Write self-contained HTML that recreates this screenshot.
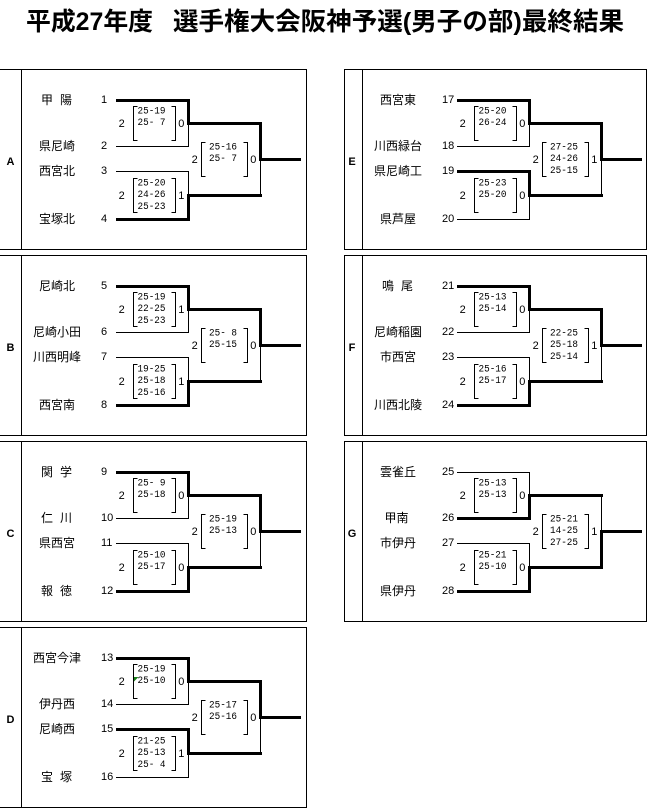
<!DOCTYPE html>
<html><head><meta charset="utf-8">
<style>
html,body{margin:0;padding:0;background:#fff;}
svg{display:block;}
.t{stroke:#000;stroke-width:1;fill:none;}
.k{stroke:#000;stroke-width:3;stroke-linecap:square;stroke-linejoin:miter;fill:none;}
.n{font-family:"Liberation Sans","Noto Sans CJK JP",sans-serif;font-size:12px;text-anchor:middle;fill:#000;}
.d{font-family:"Liberation Sans",sans-serif;font-size:11px;fill:#000;}
.s{font-family:"Liberation Mono",monospace;font-size:10.5px;fill:#000;}
.c{font-family:"Liberation Sans",sans-serif;font-size:11px;text-anchor:middle;fill:#000;}
.L{font-family:"Liberation Sans",sans-serif;font-size:11px;font-weight:bold;text-anchor:middle;fill:#000;}
.T{font-family:"Liberation Sans","Noto Sans CJK JP",sans-serif;font-size:25px;font-weight:bold;fill:#000;}
</style></head>
<body>
<svg width="648" height="808" viewBox="0 0 648 808" xmlns="http://www.w3.org/2000/svg">
<rect x="0" y="0" width="648" height="808" fill="#fff"/>

<text class="T" x="26" y="30" textLength="127" lengthAdjust="spacingAndGlyphs">平成27年度</text>
<text class="T" x="173" y="30" textLength="451" lengthAdjust="spacingAndGlyphs">選手権大会阪神予選(男子の部)最終結果</text>

<!-- Borders left panels -->
<path class="t" d="M0 69.5H307M306.5 69.5V249.5M0 249.5H307"/>
<path class="t" d="M0 255.5H307M306.5 255.5V435.5M0 435.5H307"/>
<path class="t" d="M0 441.5H307M306.5 441.5V621.5M0 621.5H307"/>
<path class="t" d="M0 627.5H307M306.5 627.5V807.5M0 807.5H307"/>
<!-- Borders right panels -->
<rect class="t" x="344.5" y="69.5" width="302" height="180"/>
<rect class="t" x="344.5" y="255.5" width="302" height="180"/>
<rect class="t" x="344.5" y="441.5" width="302" height="180"/>

<!-- Panel A -->
<g transform="translate(0,69)">
<path class="t" d="M21.5 0V181"/>
<text class="L" x="10.5" y="96">A</text>
<text class="n" x="47" y="35">甲</text><text class="n" x="66" y="35">陽</text>
<text class="n" x="57" y="81">県尼崎</text>
<text class="n" x="57" y="106">西宮北</text>
<text class="n" x="57" y="154">宝塚北</text>
<text class="d" x="101" y="34">1</text>
<text class="d" x="101" y="80">2</text>
<text class="d" x="101" y="105">3</text>
<text class="d" x="101" y="153">4</text>
<path class="k" d="M117.5 31.5H188.5V54.5H260.5V90.5H299.5"/>
<path class="k" d="M117.5 150.5H188.5V126.5H260.5"/>
<path class="t" d="M116 77.5H188.5V54.5M116 102.5H188.5V126.5M260.5 90.5V126.5"/>
<path class="t" d="M137.5 37.5H133.5V71.5H137.5M171.5 37.5H175.5V71.5H171.5M137.5 109.5H133.5V143.5H137.5M171.5 109.5H175.5V143.5H171.5M205.5 73.5H201.5V107.5H205.5M243.5 73.5H247.5V107.5H243.5"/>
<text class="s" x="137.5" y="44.5" textLength="28" lengthAdjust="spacingAndGlyphs">25-19</text>
<text class="s" x="137.5" y="56.2" textLength="28" lengthAdjust="spacingAndGlyphs">25- 7</text>
<text class="s" x="137.5" y="116.5" textLength="28" lengthAdjust="spacingAndGlyphs">25-20</text>
<text class="s" x="137.5" y="128.2" textLength="28" lengthAdjust="spacingAndGlyphs">24-26</text>
<text class="s" x="137.5" y="139.9" textLength="28" lengthAdjust="spacingAndGlyphs">25-23</text>
<text class="s" x="209" y="80.5" textLength="28" lengthAdjust="spacingAndGlyphs">25-16</text>
<text class="s" x="209" y="92.2" textLength="28" lengthAdjust="spacingAndGlyphs">25- 7</text>
<text class="c" x="121.7" y="58">2</text><text class="c" x="181.3" y="58">0</text>
<text class="c" x="121.7" y="130">2</text><text class="c" x="181.3" y="130">1</text>
<text class="c" x="194.7" y="94">2</text><text class="c" x="253.3" y="94">0</text>
</g>

<!-- Panel B -->
<g transform="translate(0,255)">
<path class="t" d="M21.5 0V181"/>
<text class="L" x="10.5" y="96">B</text>
<text class="n" x="57" y="35">尼崎北</text>
<text class="n" x="57" y="81">尼崎小田</text>
<text class="n" x="57" y="106">川西明峰</text>
<text class="n" x="57" y="154">西宮南</text>
<text class="d" x="101" y="34">5</text>
<text class="d" x="101" y="80">6</text>
<text class="d" x="101" y="105">7</text>
<text class="d" x="101" y="153">8</text>
<path class="k" d="M117.5 31.5H188.5V54.5H260.5V90.5H299.5"/>
<path class="k" d="M117.5 150.5H188.5V126.5H260.5"/>
<path class="t" d="M116 77.5H188.5V54.5M116 102.5H188.5V126.5M260.5 90.5V126.5"/>
<path class="t" d="M137.5 37.5H133.5V71.5H137.5M171.5 37.5H175.5V71.5H171.5M137.5 109.5H133.5V143.5H137.5M171.5 109.5H175.5V143.5H171.5M205.5 73.5H201.5V107.5H205.5M243.5 73.5H247.5V107.5H243.5"/>
<text class="s" x="137.5" y="44.5" textLength="28" lengthAdjust="spacingAndGlyphs">25-19</text>
<text class="s" x="137.5" y="56.2" textLength="28" lengthAdjust="spacingAndGlyphs">22-25</text>
<text class="s" x="137.5" y="67.9" textLength="28" lengthAdjust="spacingAndGlyphs">25-23</text>
<text class="s" x="137.5" y="116.5" textLength="28" lengthAdjust="spacingAndGlyphs">19-25</text>
<text class="s" x="137.5" y="128.2" textLength="28" lengthAdjust="spacingAndGlyphs">25-18</text>
<text class="s" x="137.5" y="139.9" textLength="28" lengthAdjust="spacingAndGlyphs">25-16</text>
<text class="s" x="209" y="80.5" textLength="28" lengthAdjust="spacingAndGlyphs">25- 8</text>
<text class="s" x="209" y="92.2" textLength="28" lengthAdjust="spacingAndGlyphs">25-15</text>
<text class="c" x="121.7" y="58">2</text><text class="c" x="181.3" y="58">1</text>
<text class="c" x="121.7" y="130">2</text><text class="c" x="181.3" y="130">1</text>
<text class="c" x="194.7" y="94">2</text><text class="c" x="253.3" y="94">0</text>
</g>

<!-- Panel C -->
<g transform="translate(0,441)">
<path class="t" d="M21.5 0V181"/>
<text class="L" x="10.5" y="96">C</text>
<text class="n" x="47" y="35">関</text><text class="n" x="66" y="35">学</text>
<text class="n" x="47" y="81">仁</text><text class="n" x="66" y="81">川</text>
<text class="n" x="57" y="106">県西宮</text>
<text class="n" x="47" y="154">報</text><text class="n" x="66" y="154">徳</text>
<text class="d" x="101" y="34">9</text>
<text class="d" x="101" y="80">10</text>
<text class="d" x="101" y="105">11</text>
<text class="d" x="101" y="153">12</text>
<path class="k" d="M117.5 31.5H188.5V54.5H260.5V90.5H299.5"/>
<path class="k" d="M117.5 150.5H188.5V126.5H260.5"/>
<path class="t" d="M116 77.5H188.5V54.5M116 102.5H188.5V126.5M260.5 90.5V126.5"/>
<path class="t" d="M137.5 37.5H133.5V71.5H137.5M171.5 37.5H175.5V71.5H171.5M137.5 109.5H133.5V143.5H137.5M171.5 109.5H175.5V143.5H171.5M205.5 73.5H201.5V107.5H205.5M243.5 73.5H247.5V107.5H243.5"/>
<text class="s" x="137.5" y="44.5" textLength="28" lengthAdjust="spacingAndGlyphs">25- 9</text>
<text class="s" x="137.5" y="56.2" textLength="28" lengthAdjust="spacingAndGlyphs">25-18</text>
<text class="s" x="137.5" y="116.5" textLength="28" lengthAdjust="spacingAndGlyphs">25-10</text>
<text class="s" x="137.5" y="128.2" textLength="28" lengthAdjust="spacingAndGlyphs">25-17</text>
<text class="s" x="209" y="80.5" textLength="28" lengthAdjust="spacingAndGlyphs">25-19</text>
<text class="s" x="209" y="92.2" textLength="28" lengthAdjust="spacingAndGlyphs">25-13</text>
<text class="c" x="121.7" y="58">2</text><text class="c" x="181.3" y="58">0</text>
<text class="c" x="121.7" y="130">2</text><text class="c" x="181.3" y="130">0</text>
<text class="c" x="194.7" y="94">2</text><text class="c" x="253.3" y="94">0</text>
</g>

<!-- Panel D -->
<g transform="translate(0,627)">
<path class="t" d="M21.5 0V181"/>
<text class="L" x="10.5" y="96">D</text>
<text class="n" x="57" y="35">西宮今津</text>
<text class="n" x="57" y="81">伊丹西</text>
<text class="n" x="57" y="106">尼崎西</text>
<text class="n" x="47" y="154">宝</text><text class="n" x="66" y="154">塚</text>
<text class="d" x="101" y="34">13</text>
<text class="d" x="101" y="80">14</text>
<text class="d" x="101" y="105">15</text>
<text class="d" x="101" y="153">16</text>
<path class="k" d="M117.5 31.5H188.5V54.5H260.5V90.5H299.5"/>
<path class="k" d="M117.5 102.5H188.5V126.5H260.5"/>
<path class="t" d="M116 77.5H188.5V54.5M116 150.5H188.5V126.5M260.5 90.5V126.5"/>
<path class="t" d="M137.5 37.5H133.5V71.5H137.5M171.5 37.5H175.5V71.5H171.5M137.5 109.5H133.5V143.5H137.5M171.5 109.5H175.5V143.5H171.5M205.5 73.5H201.5V107.5H205.5M243.5 73.5H247.5V107.5H243.5"/>
<polygon points="134,50 138.5,50 134,54.5" fill="#1b7f1b"/>
<text class="s" x="137.5" y="44.5" textLength="28" lengthAdjust="spacingAndGlyphs">25-19</text>
<text class="s" x="137.5" y="56.2" textLength="28" lengthAdjust="spacingAndGlyphs">25-10</text>
<text class="s" x="137.5" y="116.5" textLength="28" lengthAdjust="spacingAndGlyphs">21-25</text>
<text class="s" x="137.5" y="128.2" textLength="28" lengthAdjust="spacingAndGlyphs">25-13</text>
<text class="s" x="137.5" y="139.9" textLength="28" lengthAdjust="spacingAndGlyphs">25- 4</text>
<text class="s" x="209" y="80.5" textLength="28" lengthAdjust="spacingAndGlyphs">25-17</text>
<text class="s" x="209" y="92.2" textLength="28" lengthAdjust="spacingAndGlyphs">25-16</text>
<text class="c" x="121.7" y="58">2</text><text class="c" x="181.3" y="58">0</text>
<text class="c" x="121.7" y="130">2</text><text class="c" x="181.3" y="130">1</text>
<text class="c" x="194.7" y="94">2</text><text class="c" x="253.3" y="94">0</text>
</g>

<!-- Panel E -->
<g transform="translate(341,69)">
<path class="t" d="M21.5 0V181"/>
<text class="L" x="11" y="96">E</text>
<text class="n" x="57" y="35">西宮東</text>
<text class="n" x="57" y="81">川西緑台</text>
<text class="n" x="57" y="106">県尼崎工</text>
<text class="n" x="57" y="154">県芦屋</text>
<text class="d" x="101" y="34">17</text>
<text class="d" x="101" y="80">18</text>
<text class="d" x="101" y="105">19</text>
<text class="d" x="101" y="153">20</text>
<path class="k" d="M117.5 31.5H188.5V54.5H260.5V90.5H299.5"/>
<path class="k" d="M117.5 102.5H188.5V126.5H260.5"/>
<path class="t" d="M116 77.5H188.5V54.5M116 150.5H188.5V126.5M260.5 90.5V126.5"/>
<path class="t" d="M137.5 37.5H133.5V71.5H137.5M171.5 37.5H175.5V71.5H171.5M137.5 109.5H133.5V143.5H137.5M171.5 109.5H175.5V143.5H171.5M205.5 73.5H201.5V107.5H205.5M243.5 73.5H247.5V107.5H243.5"/>
<text class="s" x="137.5" y="44.5" textLength="28" lengthAdjust="spacingAndGlyphs">25-20</text>
<text class="s" x="137.5" y="56.2" textLength="28" lengthAdjust="spacingAndGlyphs">26-24</text>
<text class="s" x="137.5" y="116.5" textLength="28" lengthAdjust="spacingAndGlyphs">25-23</text>
<text class="s" x="137.5" y="128.2" textLength="28" lengthAdjust="spacingAndGlyphs">25-20</text>
<text class="s" x="209" y="80.5" textLength="28" lengthAdjust="spacingAndGlyphs">27-25</text>
<text class="s" x="209" y="92.2" textLength="28" lengthAdjust="spacingAndGlyphs">24-26</text>
<text class="s" x="209" y="103.9" textLength="28" lengthAdjust="spacingAndGlyphs">25-15</text>
<text class="c" x="121.7" y="58">2</text><text class="c" x="181.3" y="58">0</text>
<text class="c" x="121.7" y="130">2</text><text class="c" x="181.3" y="130">0</text>
<text class="c" x="194.7" y="94">2</text><text class="c" x="253.3" y="94">1</text>
</g>

<!-- Panel F -->
<g transform="translate(341,255)">
<path class="t" d="M21.5 0V181"/>
<text class="L" x="11" y="96">F</text>
<text class="n" x="47" y="35">鳴</text><text class="n" x="66" y="35">尾</text>
<text class="n" x="57" y="81">尼崎稲園</text>
<text class="n" x="57" y="106">市西宮</text>
<text class="n" x="57" y="154">川西北陵</text>
<text class="d" x="101" y="34">21</text>
<text class="d" x="101" y="80">22</text>
<text class="d" x="101" y="105">23</text>
<text class="d" x="101" y="153">24</text>
<path class="k" d="M117.5 31.5H188.5V54.5H260.5V90.5H299.5"/>
<path class="k" d="M117.5 150.5H188.5V126.5H260.5"/>
<path class="t" d="M116 77.5H188.5V54.5M116 102.5H188.5V126.5M260.5 90.5V126.5"/>
<path class="t" d="M137.5 37.5H133.5V71.5H137.5M171.5 37.5H175.5V71.5H171.5M137.5 109.5H133.5V143.5H137.5M171.5 109.5H175.5V143.5H171.5M205.5 73.5H201.5V107.5H205.5M243.5 73.5H247.5V107.5H243.5"/>
<text class="s" x="137.5" y="44.5" textLength="28" lengthAdjust="spacingAndGlyphs">25-13</text>
<text class="s" x="137.5" y="56.2" textLength="28" lengthAdjust="spacingAndGlyphs">25-14</text>
<text class="s" x="137.5" y="116.5" textLength="28" lengthAdjust="spacingAndGlyphs">25-16</text>
<text class="s" x="137.5" y="128.2" textLength="28" lengthAdjust="spacingAndGlyphs">25-17</text>
<text class="s" x="209" y="80.5" textLength="28" lengthAdjust="spacingAndGlyphs">22-25</text>
<text class="s" x="209" y="92.2" textLength="28" lengthAdjust="spacingAndGlyphs">25-18</text>
<text class="s" x="209" y="103.9" textLength="28" lengthAdjust="spacingAndGlyphs">25-14</text>
<text class="c" x="121.7" y="58">2</text><text class="c" x="181.3" y="58">0</text>
<text class="c" x="121.7" y="130">2</text><text class="c" x="181.3" y="130">0</text>
<text class="c" x="194.7" y="94">2</text><text class="c" x="253.3" y="94">1</text>
</g>

<!-- Panel G -->
<g transform="translate(341,441)">
<path class="t" d="M21.5 0V181"/>
<text class="L" x="11" y="96">G</text>
<text class="n" x="57" y="35">雲雀丘</text>
<text class="n" x="55.5" y="81">甲南</text>
<text class="n" x="57" y="106">市伊丹</text>
<text class="n" x="57" y="154">県伊丹</text>
<text class="d" x="101" y="34">25</text>
<text class="d" x="101" y="80">26</text>
<text class="d" x="101" y="105">27</text>
<text class="d" x="101" y="153">28</text>
<path class="k" d="M117.5 77.5H188.5V54.5H260.5"/>
<path class="k" d="M117.5 150.5H188.5V126.5H260.5V90.5H299.5"/>
<path class="t" d="M116 31.5H188.5V54.5M116 102.5H188.5V126.5M260.5 54.5V90.5"/>
<path class="t" d="M137.5 37.5H133.5V71.5H137.5M171.5 37.5H175.5V71.5H171.5M137.5 109.5H133.5V143.5H137.5M171.5 109.5H175.5V143.5H171.5M205.5 73.5H201.5V107.5H205.5M243.5 73.5H247.5V107.5H243.5"/>
<text class="s" x="137.5" y="44.5" textLength="28" lengthAdjust="spacingAndGlyphs">25-13</text>
<text class="s" x="137.5" y="56.2" textLength="28" lengthAdjust="spacingAndGlyphs">25-13</text>
<text class="s" x="137.5" y="116.5" textLength="28" lengthAdjust="spacingAndGlyphs">25-21</text>
<text class="s" x="137.5" y="128.2" textLength="28" lengthAdjust="spacingAndGlyphs">25-10</text>
<text class="s" x="209" y="80.5" textLength="28" lengthAdjust="spacingAndGlyphs">25-21</text>
<text class="s" x="209" y="92.2" textLength="28" lengthAdjust="spacingAndGlyphs">14-25</text>
<text class="s" x="209" y="103.9" textLength="28" lengthAdjust="spacingAndGlyphs">27-25</text>
<text class="c" x="121.7" y="58">2</text><text class="c" x="181.3" y="58">0</text>
<text class="c" x="121.7" y="130">2</text><text class="c" x="181.3" y="130">0</text>
<text class="c" x="194.7" y="94">2</text><text class="c" x="253.3" y="94">1</text>
</g>
</svg>
</body></html>
